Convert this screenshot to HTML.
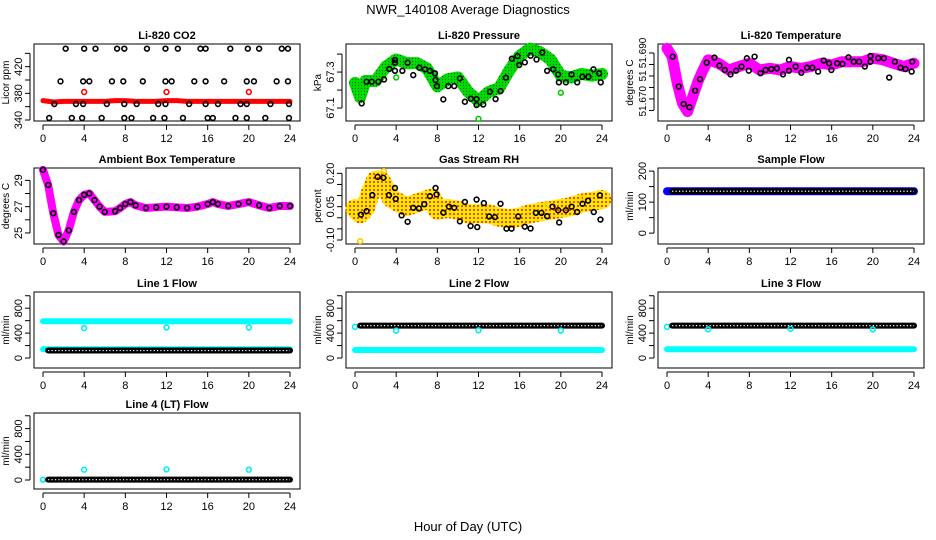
<!DOCTYPE html>
<html><head><meta charset="utf-8"><style>
html,body{margin:0;padding:0;background:#fff}
svg{display:block;font-family:"Liberation Sans",sans-serif}
</style></head><body>
<svg id="c" width="936" height="540" viewBox="0 0 936 540">
<defs>
<pattern id="rhpat" width="4" height="4" patternUnits="userSpaceOnUse">
<rect width="4" height="4" fill="#ffee00"/><circle cx="2" cy="2" r="1.1" fill="#ff3300"/>
</pattern>
<pattern id="grnpat" width="3" height="3" patternUnits="userSpaceOnUse">
<rect width="3" height="3" fill="#00dd00"/><circle cx="1.5" cy="1.5" r="0.6" fill="#006600"/>
</pattern>
</defs>
<text x="468" y="14" text-anchor="middle" font-size="13">NWR_140108  Average Diagnostics</text>
<text x="468" y="531" text-anchor="middle" font-size="13">Hour of Day (UTC)</text>
</svg>
<script>
// ---------- data ----------
const xTicks = [0,4,8,12,16,20,24];
// CO2
const co2RedT = [0,1,2,3,4,5,6,7,8,9,10,11,12,13,14,15,16,17,18,19,20,21,22,23,24];
const co2RedV = [369,367,368,368,368,368,368,369,369,368,368,368,369,369,368,368,368,368,368,368,368,368,368,368,368];
const co2OutT = [4,12,20];
const co2OutV = [382,382,382];
const co2BlkT = [2.2,4.0,5.1,7.2,7.9,10.1,11.9,13.1,15.3,15.8,18.2,19.9,21.0,23.2,23.8,
 1.7,3.9,4.5,6.7,7.8,9.7,11.9,12.5,14.7,15.8,17.6,19.8,20.5,22.7,23.8,
 1.1,3.2,3.9,6.2,7.9,9.1,11.2,11.9,14.2,15.8,17.0,19.2,19.8,22.1,23.9,
 0.6,2.8,3.8,5.7,7.9,8.6,10.7,11.8,13.6,16.0,16.5,18.7,19.8,21.6,23.9];
const co2BlkV = [447,447,447,447,447,447,447,447,447,447,447,447,447,447,447,
 398,398,398,398,398,398,398,398,398,398,398,398,398,398,398,
 364,364,364,364,364,364,364,364,364,364,364,364,364,364,364,
 343,343,343,343,343,343,343,343,343,343,343,343,343,343,343];
// Pressure
const prGrnT = [0,0.5,1,2,3,4,5,6,7,8,9,10,11,12,13,14,15,16,17,18,19,20,21,22,23,24];
const prGrnV = [67.24,67.16,67.25,67.25,67.33,67.37,67.35,67.35,67.32,67.22,67.26,67.27,67.19,67.14,67.19,67.21,67.31,67.39,67.43,67.41,67.37,67.28,67.27,67.29,67.28,67.29];
const prOutT = [4,12,20];
const prOutV = [67.27,67.04,67.185];
const prBlkT = [0.65,1.13,1.62,2.27,2.82,3.33,3.88,3.88,3.88,4.6,5.11,5.66,6.25,6.8,7.28,7.77,7.83,7.96,8.58,9.06,9.64,10.19,10.68,11.26,11.81,11.81,12.46,13.11,13.66,14.14,14.66,15.24,15.79,15.95,16.5,17.06,17.64,18.19,18.67,19.26,19.74,19.81,20.49,21.04,21.59,22.1,22.69,23.17,23.72,23.88];
const prBlkV = [67.126,67.246,67.246,67.246,67.259,67.317,67.352,67.367,67.307,67.307,67.352,67.283,67.324,67.315,67.307,67.293,67.256,67.222,67.148,67.222,67.222,67.265,67.135,67.152,67.150,67.117,67.120,67.191,67.150,67.194,67.269,67.374,67.389,67.339,67.354,67.391,67.370,67.409,67.307,67.315,67.287,67.243,67.243,67.287,67.243,67.274,67.274,67.315,67.293,67.243];
// Li-820 temperature
const ltMagT = [0,0.5,1,1.5,2,2.5,3,3.5,4,5,6,7,8,9,10,11,12,13,14,15,16,17,18,19,20,21,22,23,24];
const ltMagV = [51.6920,51.6884,51.6768,51.6681,51.6645,51.6710,51.6775,51.6826,51.6870,51.6855,51.6826,51.6841,51.6855,51.6826,51.6833,51.6826,51.6841,51.6833,51.6841,51.6855,51.6848,51.6862,51.6862,51.6862,51.6877,51.6870,51.6855,51.6841,51.6855];
const ltBlkT = [0.55,1.14,1.62,2.18,2.73,3.21,3.86,4.61,5.1,5.62,6.17,6.72,7.24,7.76,7.95,8.51,9.09,9.58,10.13,10.68,11.27,11.85,11.85,12.5,13.05,13.6,14.12,14.68,15.23,15.75,15.97,16.53,17.05,17.63,18.15,18.67,19.22,19.77,19.77,20.52,21.07,21.59,22.14,22.69,23.18,23.77,23.83];
const ltBlkV = [51.6884,51.6754,51.6678,51.6664,51.6736,51.6786,51.6858,51.6880,51.6845,51.6826,51.6807,51.6823,51.6841,51.6877,51.6823,51.6884,51.6812,51.6826,51.6830,51.6833,51.6807,51.6870,51.6823,51.6841,51.6814,51.6836,51.6836,51.6819,51.6867,51.6855,51.6826,51.6855,51.6852,51.6881,51.6862,51.6862,51.6841,51.6887,51.6862,51.6877,51.6877,51.6793,51.6862,51.6836,51.6830,51.6819,51.6862];
// Ambient box temperature
const abT = [0,0.5,1,1.5,2,2.5,3,3.5,4,4.5,5,5.5,6,7,7.5,8,8.5,9,10,11,12,13,14,15,16,16.5,17,18,19,20,21,22,23,24];
const abV = [29.8,28.65,26.5,24.85,24.35,25.2,26.6,27.5,27.9,28.0,27.5,27.0,26.6,26.65,26.9,27.2,27.35,27.1,26.9,26.95,27.0,26.95,26.9,27.0,27.2,27.35,27.2,27.05,27.2,27.35,27.1,26.9,27.05,27.05];
// Gas stream RH
const rhBandT = [0,0.5,1,1.5,2,2.5,3,3.5,4,5,6,7,7.5,8,9,10,11,12,13,14,15,16,17,18,19,20,21,22,23,24];
const rhBandV = [0.042,0.018,0.042,0.113,0.169,0.169,0.129,0.089,0.074,0.05,0.066,0.082,0.089,0.034,0.042,0.034,0.018,0.018,0.018,0.003,-0.005,0.003,0.018,0.027,0.034,0.042,0.05,0.066,0.074,0.082];
const rhBlkT = [0.58,1.13,1.68,2.2,2.75,3.3,3.88,3.95,4.53,5.11,5.66,6.21,6.73,7.28,7.83,7.93,8.58,9.13,9.64,10.19,10.68,11.23,11.81,11.88,12.52,13.04,13.59,14.14,14.72,15.21,15.86,16.5,17.06,17.57,18.12,18.67,19.19,19.74,19.84,20.49,21.04,21.59,22.1,22.65,23.2,23.79,23.85];
const rhBlkV = [0.014,0.030,0.102,0.184,0.180,0.102,0.134,0.085,0.011,-0.018,0.045,0.042,0.061,0.097,0.134,0.105,0.023,0.050,0.045,-0.016,0.071,-0.037,0.082,-0.042,0.066,0.006,0.003,0.063,-0.049,-0.049,0.006,-0.040,-0.048,0.022,0.022,0.007,0.050,0.034,-0.021,0.034,0.050,0.026,0.063,0.077,0.026,0.101,-0.008];
// Flows
const flowT = [0,24];
const flowBlkT = [0.5,24];
const sampleBlue = [135,135];
const line1Cyan = [590,590];
const line1CyanLow = [140,140];
const line1Blk = [120,120];
const line1Out = [480,490,490];
const line2Blk = [520,520];
const line2CyanLow = [128,128];
const line2Out = [440,445,440];
const line3Blk = [520,520];
const line3CyanLow = [140,140];
const line3Out = [460,470,460];
const line4Blk = [5,5];
const line4Out = [160,165,160];
const outT = [4,12,20];

// ---------- helpers ----------
const svg = document.getElementById('c');
const NS = 'http://www.w3.org/2000/svg';
function mk(tag, attrs, parent){
  const e = document.createElementNS(NS, tag);
  for (const k in attrs) e.setAttribute(k, attrs[k]);
  (parent||svg).appendChild(e);
  return e;
}
const COLS = [34,346,658];
const ROWS = [[44,121],[168,244],[292,368],[413,489]];
function panel(col,row,title,ylab,ymin,ymax,ticks,labels,name,lfs){
  const L = COLS[col], R = L+266, T = ROWS[row][0], B = ROWS[row][1];
  const g = mk('g',{});
  
  
  const sx = t => L+9 + t/24*247;
  const sy = v => B - (v-ymin)/(ymax-ymin)*(B-T);
  const box = mk('rect',{x:L,y:T,width:R-L,height:B-T,fill:'none',stroke:'#000','stroke-width':1},g);
  
  
  const tt = mk('text',{x:(L+R)/2,y:T-5,'text-anchor':'middle','font-size':11,'font-weight':'bold'},g);
  tt.textContent = title;
  
  
  const xa = mk('g',{},g);
  
  
  mk('line',{x1:sx(0),x2:sx(24),y1:B+4,y2:B+4,stroke:'#000'},xa);
  xTicks.forEach(t=>{
    mk('line',{x1:sx(t),x2:sx(t),y1:B+4,y2:B+9,stroke:'#000'},xa);
    const tx = mk('text',{x:sx(t),y:B+21,'text-anchor':'middle','font-size':11},xa);
    tx.textContent = t;
  });
  const ya = mk('g',{},g);
  
  
  mk('line',{x1:L-4,x2:L-4,y1:sy(ticks[0]),y2:sy(ticks[ticks.length-1]),stroke:'#000'},ya);
  ticks.forEach(v=>{ mk('line',{x1:L-4,x2:L-9,y1:sy(v),y2:sy(v),stroke:'#000'},ya); });
  labels.forEach(l=>{
    const y = sy(l[0]);
    const tx = mk('text',{x:L-12,y:y,'text-anchor':'middle','font-size':lfs||11,transform:`rotate(-90 ${L-12} ${y})`},ya);
    tx.textContent = l[1];
  });
  const yl = mk('text',{x:L-25,y:(T+B)/2,'text-anchor':'middle','font-size':10,transform:`rotate(-90 ${L-25} ${(T+B)/2})`},g);
  yl.textContent = ylab;
  
  
  return {g,sx,sy};
}
function band(p,T,V,color,w,name){
  const pl = mk('polyline',{points:T.map((t,i)=>p.sx(t)+','+p.sy(V[i])).join(' '),fill:'none',stroke:color,'stroke-width':w,'stroke-linejoin':'round','stroke-linecap':'round'},p.g);
  
  
  return pl;
}
function pts(p,T,V,color,name,r){
  const gg = mk('g',{},p.g);
  
  
  T.forEach((t,i)=>{
    mk('circle',{cx:p.sx(t),cy:p.sy(V[i]),r:r||2.4,fill:'none',stroke:color,'stroke-width':1.6},gg);
  });
}
function chain(p,T,V,color,name){
  band(p,T,V,color,6,name);
  const h = band(p,T,V,'#fff',1.2,name+'-holes');
  h.setAttribute('stroke-dasharray','1.2 2.2');
  h.setAttribute('stroke-linecap','butt');
}
const flowTicks=[0,200,400,600,800,1000];
const flowLabels=[[0,'0'],[400,'400'],[800,'800']];

// CO2
let p = panel(0,0,'Li-820 CO2','Licor ppm',338.5,454,[340,360,380,400,420,440],[[340,'340'],[380,'380'],[420,'420']],'co2');
band(p,co2RedT,co2RedV,'#ff0000',5,'co2-red-series');
pts(p,co2OutT,co2OutV,'#ff0000','co2-red-outliers');
pts(p,co2BlkT,co2BlkV,'#000','co2-black-points');
// Pressure
p = panel(1,0,'Li-820 Pressure','kPa',67.028,67.456,[67.1,67.2,67.3,67.4],[[67.1,'67.1'],[67.3,'67.3']],'pressure');
band(p,prGrnT,prGrnV,'url(#grnpat)',12,'pressure-green-series');
pts(p,prOutT,prOutV,'#00cc00','pressure-green-outliers');
pts(p,prBlkT,prBlkV,'#000','pressure-black-points');
// Li-820 temp
p = panel(2,0,'Li-820 Temperature','degrees C',51.6604,51.6939,[51.690,51.685,51.680,51.675,51.670,51.665],[[51.690,'51.690'],[51.680,'51'],[51.669,'51.670']],'li820-temp',10);
band(p,ltMagT,ltMagV,'#ff00ff',11,'li820-temp-magenta-series');
pts(p,ltBlkT,ltBlkV,'#000','li820-temp-black-points');
// Ambient
p = panel(0,1,'Ambient Box Temperature','degrees C',24.16,29.94,[25,26,27,28,29],[[25,'25'],[27,'27'],[29,'29']],'ambient-temp');
band(p,abT,abV,'#ff00ff',8,'ambient-magenta-series');
pts(p,abT,abV,'#000','ambient-black-points');
// RH
p = panel(1,1,'Gas Stream RH','percent',-0.118,0.224,[0.20,0.15,0.10,0.05,0.0,-0.05,-0.10],[[0.20,'0.20'],[0.05,'0.05'],[-0.10,'-0.10']],'rh');
band(p,rhBandT,rhBandV,'url(#rhpat)',19,'rh-yellow-series');
pts(p,[0.5,2.8,18.7,22.2],[-0.105,0.21,0.06,0.09],'#ffcc00','rh-outliers');
pts(p,rhBlkT,rhBlkV,'#000','rh-black-points');
// Sample flow
p = panel(2,1,'Sample Flow','ml/min',-35,210,[0,50,100,150,200],[[0,'0'],[100,'100'],[200,'200']],'sample-flow');
band(p,flowT,sampleBlue,'#0000ff',8,'sample-flow-blue-series');
chain(p,flowBlkT,sampleBlue,'#000','sample-flow-black-points');
// Line 1
p = panel(0,2,'Line 1 Flow','ml/min',-160,1060,flowTicks,flowLabels,'line1-flow');
band(p,flowT,line1Cyan,'#00ffff',6,'line1-cyan-high');
band(p,flowT,line1CyanLow,'#00ffff',6,'line1-cyan-low');
chain(p,flowBlkT,line1Blk,'#000','line1-black-points');
pts(p,outT,line1Out,'#00eeee','line1-outliers');
// Line 2
p = panel(1,2,'Line 2 Flow','ml/min',-160,1060,flowTicks,flowLabels,'line2-flow');
band(p,flowT,line2CyanLow,'#00ffff',6,'line2-cyan-low');
pts(p,[0],[500],'#00eeee','line2-start-point');
chain(p,flowBlkT,line2Blk,'#000','line2-black-points');
pts(p,outT,line2Out,'#00eeee','line2-outliers');
// Line 3
p = panel(2,2,'Line 3 Flow','ml/min',-160,1060,flowTicks,flowLabels,'line3-flow');
band(p,flowT,line3CyanLow,'#00ffff',6,'line3-cyan-low');
pts(p,[0],[500],'#00eeee','line3-start-point');
chain(p,flowBlkT,line3Blk,'#000','line3-black-points');
pts(p,outT,line3Out,'#00eeee','line3-outliers');
// Line 4
p = panel(0,3,'Line 4 (LT) Flow','ml/min',-140,1043,flowTicks,flowLabels,'line4-flow');
pts(p,[0],[5],'#00eeee','line4-start-point');
chain(p,flowBlkT,line4Blk,'#000','line4-black-points');
pts(p,outT,line4Out,'#00eeee','line4-outliers');
</script>
</body></html>
